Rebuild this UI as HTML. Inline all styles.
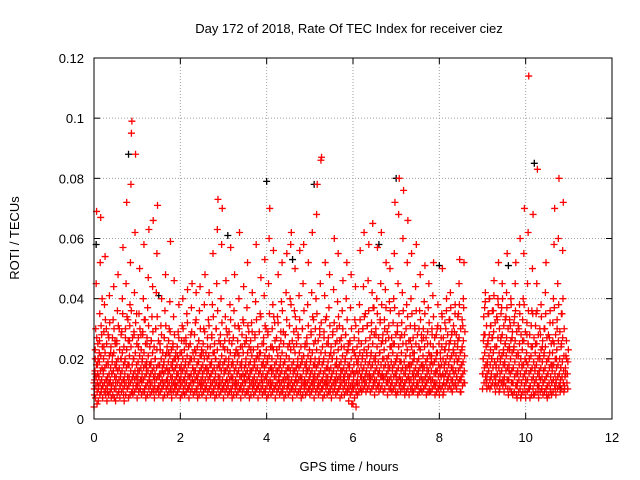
<!DOCTYPE html>
<html><head><meta charset="utf-8"><style>
html,body{margin:0;padding:0;background:#fff}
svg{display:block;font-family:"Liberation Sans",sans-serif}
</style></head><body>
<svg id="chart" width="640" height="480" xmlns="http://www.w3.org/2000/svg">
<rect width="640" height="480" fill="#fff"/>
<text x="349" y="33" font-size="13" text-anchor="middle">Day 172 of 2018, Rate Of TEC Index for receiver ciez</text>
<text transform="translate(19,238) rotate(-90)" font-size="13" text-anchor="middle">ROTI / TECUs</text>
<text x="349" y="471" font-size="13" text-anchor="middle">GPS time / hours</text>
<g id="grid"></g>
<g id="ticks"></g>
<g id="pts"></g>
<rect x="94" y="58" width="518" height="361" fill="none" stroke="#000"/>
</svg>
<script>
const xTicks=[0,2,4,6,8,10,12];
const yTicks=[0,0.02,0.04,0.06,0.08,0.1,0.12];
const yTickLabels=["0","0.02","0.04","0.06","0.08","0.1","0.12"];
const times=[0.0,0.1,0.2,0.3,0.4,0.5,0.6,0.7,0.8,0.9,1.0,1.1,1.2,1.3,1.4,1.5,1.6,1.7,1.8,1.9,2.0,2.1,2.2,2.3,2.4,2.5,2.6,2.7,2.8,2.9,3.0,3.1,3.2,3.3,3.4,3.5,3.6,3.7,3.8,3.9,4.0,4.1,4.2,4.3,4.4,4.5,4.6,4.7,4.8,4.9,5.0,5.1,5.2,5.3,5.4,5.5,5.6,5.7,5.8,5.9,6.0,6.1,6.2,6.3,6.4,6.5,6.6,6.7,6.8,6.9,7.0,7.1,7.2,7.3,7.4,7.5,7.6,7.7,7.8,7.9,8.0,8.1,8.2,8.3,8.4,8.5,9.0,9.1,9.2,9.3,9.4,9.5,9.6,9.7,9.8,9.9,10.0,10.1,10.2,10.3,10.4,10.5,10.6,10.7,10.8,10.9];
// ROTI values in units of 0.001 TECU/min (upper / scattered points)
const rotiRed=[
[12,8,15,20,30,45,69,5,18,25],[10,14,22,35,52,67,9,28,40],[11,16,24,38,54,8,30],[13,9,18,27,41,12,22],[10,15,21,33,44,7,26],[12,17,25,36,48,9,30],[11,14,20,29,40,57,8],[13,19,27,45,72,10,33],[12,18,26,38,52,78,95,99,9],[14,20,29,42,62,88,11,35],
[12,16,24,35,50,10,28],[13,19,28,40,58,9,33],[11,17,25,37,47,63,14],[12,18,26,34,44,66,9],[13,20,30,42,55,71,10],[11,15,23,31,40,16],[12,18,27,36,48,10,22],[13,16,22,30,39,59,9],[12,17,24,34,46,11,20],[11,15,21,29,38,13],
[12,16,22,31,40,9,26],[13,18,25,35,43,10],[11,14,20,28,37,45,17],[12,16,23,32,42,9],[13,19,26,36,44,11,21],[12,15,22,30,38,48,10],[11,17,24,33,42,14],[12,18,27,38,55,9,22],[13,20,30,45,63,73,11],[12,17,25,40,58,70,10],
[11,16,23,34,46,13,28],[12,18,26,38,57,9],[13,19,27,36,48,11,22],[12,15,22,31,40,62,10],[11,17,24,33,44,14],[12,18,26,37,52,9,29],[13,16,23,32,42,11],[12,19,27,39,58,10,21],[11,15,22,35,47,13],[12,18,25,41,53,9,30],
[13,20,29,45,60,70,11],[12,17,24,38,56,10,32],[11,16,23,34,48,14],[12,18,26,39,52,9,29],[13,19,28,42,55,11],[12,17,25,40,58,62,10],[11,16,24,36,50,13,30],[12,18,27,41,56,9],[13,20,30,45,58,11,24],[12,17,25,38,52,10],
[14,19,28,42,62,12,33],[13,18,26,40,68,78,11],[12,20,30,45,86,87,10],[13,19,27,41,52,12,34],[12,17,25,37,48,9,22],[14,20,29,43,60,11],[13,18,26,39,55,10,31],[12,16,24,36,46,14],[13,19,28,40,52,9,23],[12,17,25,37,48,5,11],
[11,15,22,33,44,4,19],[13,18,26,38,56,10],[14,20,30,44,62,12,35],[15,22,31,46,58,13],[14,21,29,42,65,12,37],[13,19,28,40,57,11],[15,22,32,45,62,14,26],[14,20,30,43,52,12],[13,18,27,39,50,10,24],[12,17,25,40,55,72,9],
[14,20,29,45,68,80,11],[13,19,28,42,60,76,10],[12,17,25,38,52,66,14],[13,18,26,40,55,9,22],[14,20,30,44,58,12],[12,16,24,36,48,10,28],[13,18,27,39,51,11],[12,17,25,37,45,9,21],[13,19,28,41,52,12],[12,16,22,30,38,10],
[11,15,20,27,35,50,8],[12,17,23,30,40,13],[13,18,25,33,42,10,28],[12,16,22,29,38,11],[14,19,26,35,45,53,9],[13,18,24,31,40,52,12],
[15,20,28,37,42,12],[13,18,26,35,40,10,31],[14,20,27,36,46,11],[12,17,24,33,40,52,9],[13,19,27,37,45,11,22],[12,18,25,34,42,55,10],[13,16,23,31,40,9,27],[12,17,24,34,45,52,8],[11,15,21,30,38,60,7],[12,18,26,40,55,70,9],
[13,19,28,45,62,114,10],[11,16,24,36,50,68,8],[12,17,25,35,45,83,9],[11,14,20,28,38,10,24],[12,16,22,30,42,52,8],[11,15,20,27,36,9],[12,18,26,40,58,70,10],[13,20,30,45,60,80,11],[12,17,25,35,56,72,9],[11,15,20,10]];
// dense core band per time bucket (0.001 TECU/min)
const rotiCore=[
"4 7 9 10 11 12 13 14 15 16 18 20 23 27","6 8 10 11 12 13 14 16 17 19 21 24 26 31","7 9 10 11 12 13 15 17 18 20 22 25 29 33","6 8 9 11 12 13 14 15 17 19 21 24 28 32","7 8 10 11 12 14 15 16 18 19 22 25 27 30",
"6 8 9 10 12 13 14 16 17 19 20 23 26 31","7 9 10 11 12 13 15 16 18 20 22 24 28 35","6 8 10 11 12 14 15 17 18 20 23 26 30 34","7 8 9 11 12 13 14 16 18 21 24 27 31 36","8 9 10 11 13 14 15 16 18 20 22 25 28 32",
"7 9 10 11 12 13 14 16 17 19 21 23 27 30","8 9 10 12 13 14 15 17 18 20 22 25 29 33","7 8 10 11 12 13 15 16 18 19 21 24 27 31","8 9 10 11 12 14 15 16 17 19 22 24 26 29","7 9 10 11 13 14 15 17 18 20 23 26 30 34",
"8 9 10 11 12 13 14 15 17 18 20 22 25 28","7 8 10 11 12 13 15 16 17 19 21 24 27 31","8 9 10 11 12 14 15 16 18 19 21 23 26 29","7 9 10 11 12 13 14 16 17 19 20 22 25 28","8 9 10 11 12 13 14 15 17 18 20 22 24 27",
"7 8 10 11 12 13 14 16 17 18 20 23 26 30","8 9 10 11 12 14 15 16 18 19 21 24 27 32","7 9 10 11 12 13 14 15 17 19 20 22 25 29","8 9 10 12 13 14 15 16 18 20 22 24 28 33","7 8 10 11 12 13 15 16 17 19 21 23 26 30",
"8 9 10 11 12 13 14 16 17 18 20 22 25 29","7 9 10 11 13 14 15 16 18 20 21 24 27 31","8 9 10 11 12 13 15 16 17 19 22 25 28 34","7 8 10 11 12 14 15 17 18 20 23 26 30 36","8 9 10 11 12 13 14 16 18 19 21 24 28 32",
"7 9 10 11 12 13 15 16 17 19 20 23 26 30","8 9 10 11 13 14 15 16 18 20 22 25 29 33","7 8 10 11 12 13 14 16 17 18 21 23 27 31","8 9 10 11 12 14 15 16 18 19 21 24 26 30","7 9 10 11 12 13 14 15 17 19 22 25 28 32",
"8 9 10 12 13 14 15 16 18 20 22 24 27 31","7 8 10 11 12 13 15 16 17 19 21 23 26 29","8 9 10 11 12 13 14 16 17 18 20 24 28 33","7 9 10 11 12 14 15 16 18 20 22 25 29 34","8 9 10 11 13 14 15 17 18 19 21 23 27 31",
"7 8 10 11 12 13 15 16 17 19 21 24 28 35","8 9 10 11 12 14 15 16 18 20 23 26 30 34","7 9 10 11 12 13 14 16 17 19 21 24 27 32","8 9 10 11 12 13 15 16 18 20 22 25 29 36","7 8 10 11 13 14 15 16 17 19 21 24 28 33",
"8 9 10 11 12 13 14 16 18 20 23 26 31 38","7 9 10 11 12 14 15 16 17 19 22 25 29 34","8 9 10 12 13 14 15 17 18 20 22 24 28 33","7 8 10 11 12 13 14 16 18 19 21 25 30 36","8 9 10 11 12 13 15 16 17 19 21 23 27 31",
"8 9 10 11 12 14 15 16 18 20 22 25 29 34","7 9 10 11 13 14 15 17 18 20 23 26 30 35","8 9 10 11 12 13 15 16 18 19 22 24 28 32","7 8 10 11 12 14 15 16 17 20 22 25 29 33","8 9 10 11 12 13 14 16 17 19 21 24 27 31",
"7 9 10 11 12 13 15 16 18 20 22 25 28 32","8 9 10 12 13 14 15 17 18 20 23 26 30 34","7 8 10 11 12 13 14 16 17 19 21 24 27 30","8 9 10 11 12 14 15 16 18 20 22 25 28 33","6 8 9 10 11 12 14 15 16 18 20 23 26 30",
"5 7 9 10 11 12 13 15 16 18 21 24 27 31","8 9 10 11 12 14 15 16 18 20 22 25 29 33","9 10 11 12 13 14 16 17 19 21 23 26 30 34","9 10 11 12 14 15 16 18 19 21 24 27 31 36","9 10 11 13 14 15 17 18 20 22 25 28 32 37",
"8 10 11 12 13 15 16 17 19 21 24 27 30 35","9 10 11 12 14 15 16 18 20 22 25 28 33 38","9 10 12 13 14 15 17 18 20 23 26 29 33 37","8 10 11 12 13 14 16 17 19 21 24 27 31 36","9 10 11 12 14 15 16 18 19 22 25 28 32 37",
"8 9 11 12 13 14 16 17 19 21 24 27 31 35","9 10 11 12 13 15 16 17 19 22 25 28 32 36","8 9 10 12 13 14 15 17 18 21 23 26 30 34","8 10 11 12 13 15 16 18 19 21 24 27 31 35","9 10 11 12 14 15 16 17 19 22 25 28 31 36",
"8 9 10 11 13 14 15 17 18 20 23 26 30 33","9 10 11 12 13 14 16 17 19 21 24 27 30 35","8 9 10 12 13 14 15 16 18 20 22 25 29 32","9 10 11 12 13 15 16 18 19 21 24 27 30 34","8 9 10 11 12 14 15 16 18 20 22 25 28 31",
"8 10 11 12 14 15 17 18 20 22 24 27 30 34","9 11 12 14 15 16 18 19 21 23 25 28 32 36","10 11 13 14 15 17 18 20 21 23 26 29 33 37","9 11 12 13 15 16 17 19 21 23 25 28 31 35","10 12 13 14 16 17 19 20 22 24 27 30 34 38",
"9 11 12 14 15 16 18 19 21 23 26 29 33 37",
"10 12 14 15 17 18 20 22 24 26 28 31 34 39","10 11 13 15 16 18 19 21 23 25 28 31 35 40","11 12 14 15 17 19 20 22 24 27 29 32 36 41","9 11 12 14 15 17 18 20 22 24 27 30 34 38","10 12 13 15 16 18 20 21 23 26 28 31 35 40",
"9 11 13 14 16 17 19 21 23 25 27 30 33 37","8 10 12 13 15 16 18 20 22 24 26 29 33 38","8 9 11 12 14 15 17 19 21 23 26 29 32 36","7 9 10 12 13 15 16 18 20 22 25 28 31 35","8 9 11 12 14 15 17 18 20 23 26 29 33 38",
"7 9 10 12 13 15 16 18 20 22 25 28 32 36","7 8 10 11 13 14 16 17 19 21 24 27 31 35","8 9 11 12 13 15 16 18 20 22 25 28 31 36","7 9 10 11 13 14 16 17 19 21 23 26 30 34","8 9 10 12 13 14 16 17 19 21 24 27 30 35",
"7 8 10 11 12 14 15 17 18 20 22 25 28 32","8 9 11 12 13 15 16 18 20 22 25 28 32 37","8 10 11 12 14 15 17 18 20 23 26 29 33 38","9 10 12 13 14 16 17 19 21 24 27 30 35 40","10 12 14 15 17 19 21 23 26"];
const blackTimes=[0.05,0.8,1.5,3.1,4.0,4.6,5.1,6.6,7.0,8.0,9.6,10.2,10.8];
const rotiBlack=[58,88,41,61,79,53,78,58,80,51,51,85,10];

const X=v=>94+v/12*518;
const Y=v=>419-v/0.12*361;
const NS="http://www.w3.org/2000/svg";
const grid=document.getElementById('grid'),ticks=document.getElementById('ticks'),pts=document.getElementById('pts');
function mk(tag,attrs,parent){const e=document.createElementNS(NS,tag);for(const k in attrs)e.setAttribute(k,attrs[k]);parent.appendChild(e);return e;}
xTicks.forEach((t,i)=>{
  const x=X(t);
  if(t>0&&t<12){const g=mk('line',{x1:x,x2:x,y1:58,y2:419,stroke:'#a0a0a0','stroke-dasharray':'1,2'},grid);
  
  }
  mk('line',{x1:x,x2:x,y1:419,y2:413,stroke:'#000'},ticks);
  mk('line',{x1:x,x2:x,y1:58,y2:64,stroke:'#000'},ticks);
  const l=mk('text',{x:x,y:442,'font-size':13,'text-anchor':'middle'},ticks);l.textContent=t;
  
  
});
yTicks.forEach((t,i)=>{
  const y=Y(t);
  if(t>0&&t<0.12){const g=mk('line',{x1:94,x2:612,y1:y,y2:y,stroke:'#a0a0a0','stroke-dasharray':'1,2'},grid);
  
  }
  mk('line',{x1:94,x2:100,y1:y,y2:y,stroke:'#000'},ticks);
  mk('line',{x1:606,x2:612,y1:y,y2:y,stroke:'#000'},ticks);
  const l=mk('text',{x:84,y:y+5,'font-size':13,'text-anchor':'end'},ticks);l.textContent=yTickLabels[i];
  
  
});
function plus(x,y,color,name){
  const p=mk('path',{d:`M${x-3.5},${y}h7M${x},${y-3.5}v7`,stroke:color,'stroke-width':1.3,fill:'none'},pts);
  
  
}
blackTimes.forEach((t,i)=>plus(X(t),Y(rotiBlack[i]/1000),'#000','point-black'));
times.forEach((t,i)=>{
  const core=rotiCore[i].split(' ').map(Number);
  core.forEach((v,j)=>{
    const dt=((j*5)%core.length)/core.length*0.1;
    plus(X(t+dt),Y(v/1000),'#ff0000','point-red');
  });
  rotiRed[i].forEach((v,j)=>{
    const dt=(j/rotiRed[i].length)*0.1;
    plus(X(t+dt),Y(v/1000),'#ff0000','point-red');
  });
});
</script>
</body></html>
